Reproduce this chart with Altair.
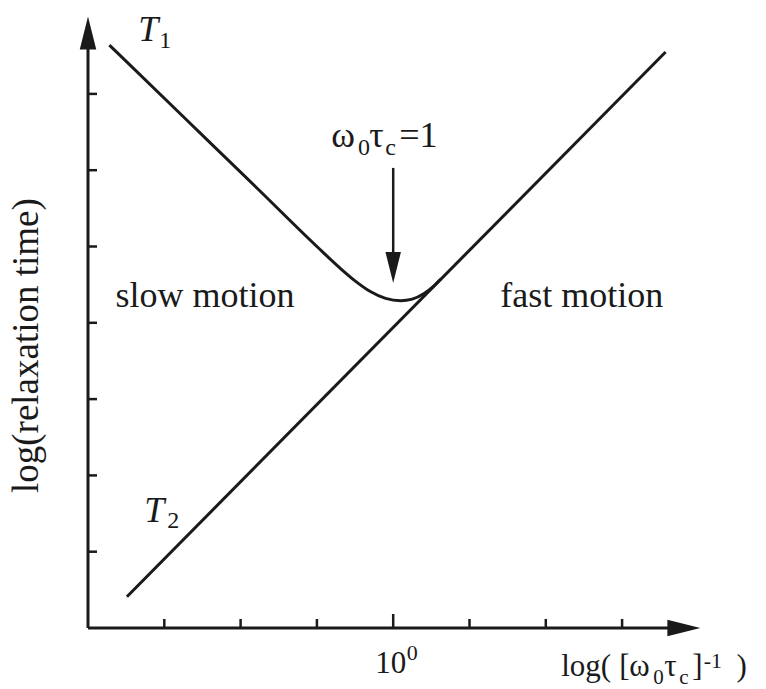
import altair as alt
import pandas as pd

# ---- curves (x: log of [w0*tc]^-1, 0 at 10^0; y: log relaxation time) ----
T1_X = [-3.72, -2.75, -1.80, -1.00, -0.70, -0.50, -0.30, -0.10, 0.10, 0.25, 0.40, 0.52, 0.62]
T1_Y = [7.64, 6.70, 5.78, 5.00, 4.72, 4.55, 4.41, 4.32, 4.29, 4.31, 4.38, 4.47, 4.57]
T2_X = [-3.49, 3.57]
T2_Y = [0.41, 7.55]

# ---- axis ticks ----
X_MINOR = [-3, -2, -1, 1, 2, 3]
X_MAJOR = [0]
Y_TICKS = [1, 2, 3, 4, 5, 6, 7]

# ---- layout ----
W, H = 678, 628
UNIT = 76.3
XD = [-4, -4 + W / UNIT]
YD = [0, H / UNIT]
INK = "#1a1a1a"
FONT = "Liberation Serif"

xs = alt.Scale(domain=XD, nice=False, zero=False)
ys = alt.Scale(domain=YD, nice=False, zero=False)
X = alt.X("x:Q", scale=xs, axis=None)
Y = alt.Y("y:Q", scale=ys, axis=None)

t1 = pd.DataFrame({"x": T1_X, "y": T1_Y})
t2 = pd.DataFrame({"x": T2_X, "y": T2_Y})

curve_t1 = alt.Chart(t1).mark_line(color=INK, strokeWidth=3, interpolate="monotone").encode(x=X, y=Y)
curve_t2 = alt.Chart(t2).mark_line(color=INK, strokeWidth=3).encode(x=X, y=Y)

# axis lines with arrow heads
x_axis = alt.Chart(pd.DataFrame({"x": [-4], "x2": [3.7], "y": [0]})).mark_rule(
    color=INK, strokeWidth=3).encode(x=X, x2="x2:Q", y=Y)
y_axis = alt.Chart(pd.DataFrame({"x": [-4], "y": [0], "y2": [7.7]})).mark_rule(
    color=INK, strokeWidth=3).encode(x=X, y=Y, y2="y2:Q")
x_head = alt.Chart(pd.DataFrame({"x": [3.81], "y": [0]})).mark_point(
    shape="M1,0L-1,-0.5L-1,0.5Z", filled=True, size=1089, opacity=1, color=INK).encode(x=X, y=Y)
y_head = alt.Chart(pd.DataFrame({"x": [-4], "y": [7.798]})).mark_point(
    shape="M0,-1L-0.5,1L0.5,1Z", filled=True, size=1089, opacity=1, color=INK).encode(x=X, y=Y)

x_minor = alt.Chart(pd.DataFrame({"x": X_MINOR})).mark_rule(color=INK, strokeWidth=2.5).encode(
    x=X, y=alt.value(H), y2=alt.value(H - 9))
x_major = alt.Chart(pd.DataFrame({"x": X_MAJOR})).mark_rule(color=INK, strokeWidth=2.5).encode(
    x=X, y=alt.value(H), y2=alt.value(H - 14))
y_ticks = alt.Chart(pd.DataFrame({"y": Y_TICKS})).mark_rule(color=INK, strokeWidth=2.5).encode(
    y=Y, x=alt.value(0), x2=alt.value(9))

# arrow marking w0*tc = 1
shaft = alt.Chart(pd.DataFrame({"x": [0], "y": [6.03], "y2": [4.8]})).mark_rule(
    color=INK, strokeWidth=2.5).encode(x=X, y=Y, y2="y2:Q")
head = alt.Chart(pd.DataFrame({"x": [0], "y": [4.725]})).mark_point(
    shape="M0,1L-0.5,-1L0.5,-1Z", filled=True, size=961, opacity=1, color=INK).encode(x=X, y=Y)

# upright text pieces (left edge, baseline)
labels = pd.DataFrame({
    "text": ["slow motion", "fast motion", "1", "2",
             "ω", "0", "τ", "c", "=1",
             "10", "0",
             "log(", "[", "ω", "0", "τ", "c", "]", "-1", ")"],
    "x": [-3.639, 1.402, -3.067, -2.962,
          -0.813, -0.460, -0.315, -0.105, 0.080,
          -0.236, 0.176,
          2.202, 2.962, 3.093, 3.408, 3.552, 3.748, 3.919, 4.070, 4.500],
    "y": [4.207, 4.207, 7.602, 1.311,
          6.304, 6.199, 6.304, 6.199, 6.304,
          -0.590, -0.419,
          -0.629, -0.629, -0.629, -0.734, -0.629, -0.734, -0.629, -0.524, -0.629],
    "size": [36, 36, 24, 24,
             36, 24, 36, 24, 36,
             31, 22,
             31, 31, 31, 21, 31, 21, 31, 22, 31],
})
text_upright = alt.Chart(labels).mark_text(
    align="left", baseline="alphabetic", font=FONT, color=INK).encode(
    x=X, y=Y, text="text:N", size=alt.Size("size:Q", scale=None, legend=None))

italic = pd.DataFrame({"text": ["T", "T"], "x": [-3.342, -3.263], "y": [7.693, 1.389]})
text_italic = alt.Chart(italic).mark_text(
    align="left", baseline="alphabetic", font=FONT, fontStyle="italic", fontSize=36, color=INK).encode(
    x=X, y=Y, text="text:N")

ytitle = pd.DataFrame({"text": ["log(relaxation time)"], "x": [-4.653], "y": [1.769]})
text_ytitle = alt.Chart(ytitle).mark_text(
    align="left", baseline="alphabetic", angle=270, font=FONT, fontSize=37, color=INK).encode(
    x=X, y=Y, text="text:N")

chart = alt.layer(
    x_axis, y_axis, x_head, y_head, x_minor, x_major, y_ticks,
    curve_t2, curve_t1, shaft, head,
    text_upright, text_italic, text_ytitle,
).properties(
    width=W, height=H,
    padding={"left": 88, "top": 0, "right": 0, "bottom": 61},
    autosize=alt.AutoSizeParams(type="none"),
    background="white",
).configure_view(stroke=None)

chart.save("out.html", embed_options={"renderer": "svg", "actions": False})
